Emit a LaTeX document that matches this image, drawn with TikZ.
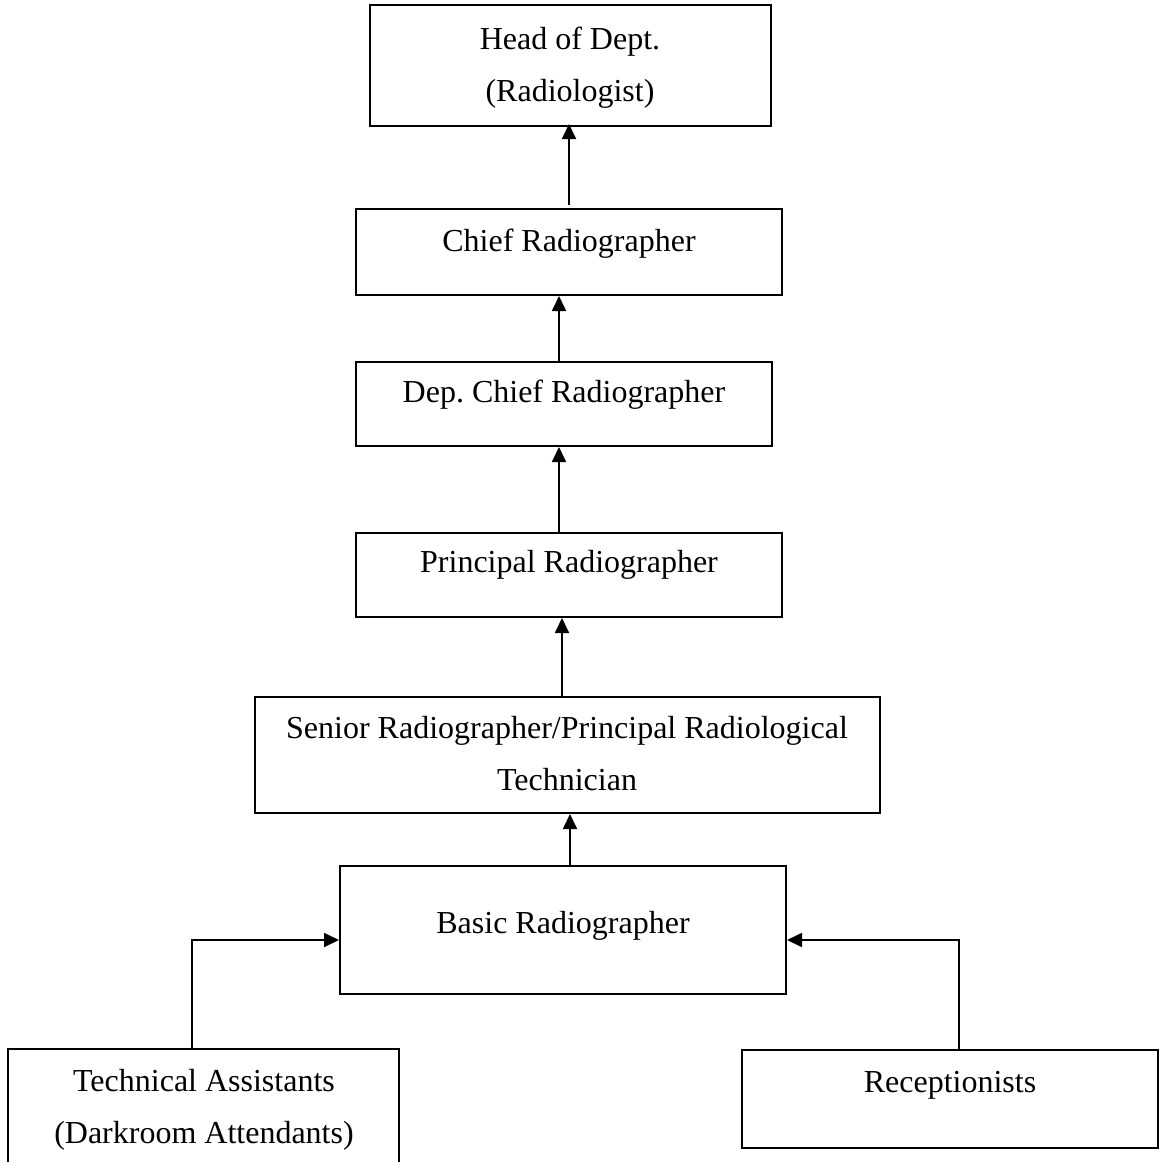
\documentclass[tikz,border=0pt]{standalone}
\usepackage{fontspec}
\setmainfont{Liberation Serif}
\usetikzlibrary{arrows.meta}

\tikzset{
  box/.style={draw, line width=1pt, inner sep=0pt},
  lbl/.style={anchor=base, align=center, inner sep=0pt, font=\fontsize{16}{26}\selectfont},
  up/.style={line width=0.9pt, -{Triangle[length=7.5pt,width=7pt]}}
}

\begin{document}
\begin{tikzpicture}[x=0.5pt, y=-0.5pt]
\useasboundingbox (0,0) rectangle (1161,1162);
\node[box, minimum width=200.5pt, minimum height=60.5pt] (head) at (570.5,65.5) {};
\node[box, minimum width=213pt, minimum height=43pt] (chief) at (569,252) {};
\node[box, minimum width=208pt, minimum height=42pt] (dep) at (564,404) {};
\node[box, minimum width=213pt, minimum height=42pt] (princ) at (569,575) {};
\node[box, minimum width=312.5pt, minimum height=58pt] (senior) at (567.5,755) {};
\node[box, minimum width=223pt, minimum height=64pt] (basic) at (563,930) {};
\node[box, minimum width=195.5pt, minimum height=66pt] (tech) at (203.5,1115) {};
\node[box, minimum width=208pt, minimum height=49pt] (recep) at (950,1099) {};
\node[lbl] (headtxt) at (570,101) {Head of Dept.\\(Radiologist)};
\node[lbl] (chieftxt) at (569,251) {Chief Radiographer};
\node[lbl] (deptxt) at (564,402) {Dep.\ Chief Radiographer};
\node[lbl] (princtxt) at (569,572) {Principal Radiographer};
\node[lbl] (seniortxt) at (567,790) {Senior Radiographer/Principal Radiological\\Technician};
\node[lbl] (basictxt) at (563,933) {Basic Radiographer};
\node[lbl] (techtxt) at (204,1143) {Technical Assistants\\(Darkroom Attendants)};
\node[lbl] (receptxt) at (950,1092) {Receptionists};
\draw[up] ([yshift=1.5pt]chief.north) -- ([yshift=1.5pt]chief.north |- head.south);
\draw[up] ([xshift=-2.5pt]dep.north) -- ([xshift=-2.5pt]dep.north |- chief.south);
\draw[up] ([xshift=-5pt]princ.north) -- ([xshift=-5pt]princ.north |- dep.south);
\draw[up] ([xshift=-2.75pt]senior.north) -- ([xshift=-2.75pt]senior.north |- princ.south);
\draw[up] ([xshift=3.5pt]basic.north) -- ([xshift=3.5pt]basic.north |- senior.south);
\draw[up] ([xshift=-5.75pt]tech.north) |- ([yshift=-5pt]basic.west);
\draw[up] ([xshift=4.5pt]recep.north) |- ([yshift=-5pt]basic.east);
\end{tikzpicture}
\end{document}
